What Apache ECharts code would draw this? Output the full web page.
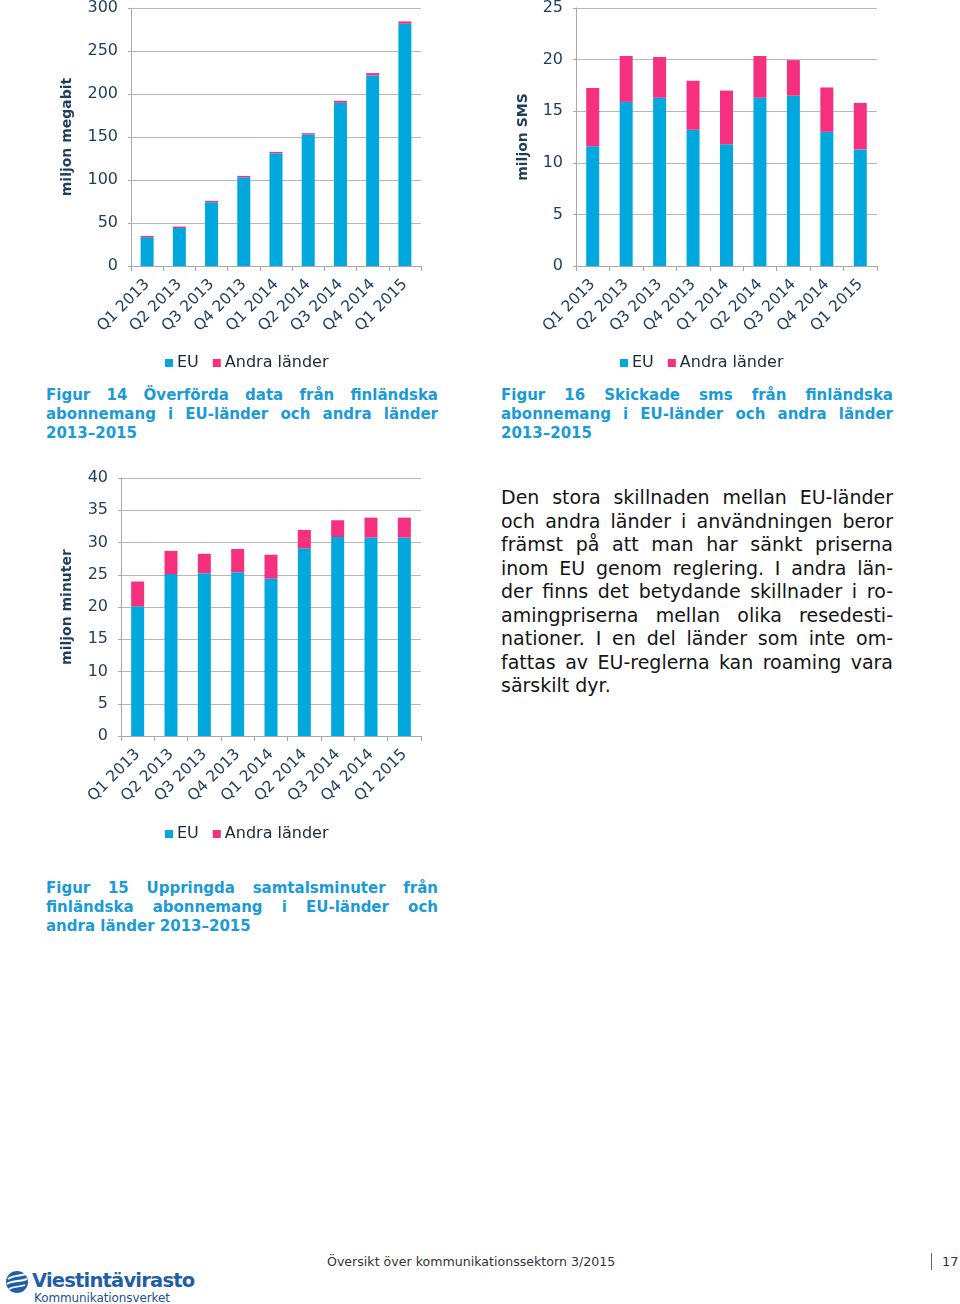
<!DOCTYPE html>
<html>
<head>
<meta charset="utf-8">
<script src="https://cdn.jsdelivr.net/npm/echarts@6/dist/echarts.min.js"></script>
<style>
  html, body { margin:0; padding:0; background:#fff; }
  body { width:960px; height:1304px; position:relative; overflow:hidden; font-family:"DejaVu Sans", Verdana, sans-serif; }
  .chart { position:absolute; }
  .cap { position:absolute; width:392px; color:#1a9bd7; font-weight:bold; font-size:15px; line-height:19px; }
  .cap div, .para div { text-align:justify; text-align-last:justify; white-space:nowrap; }
  .cap div.last, .para div.last { text-align-last:left; }
  .para { position:absolute; left:501px; top:486px; width:392px; font-size:19px; line-height:23.5px; color:#141414; }
  .footer { position:absolute; left:327px; top:1254px; font-size:12.6px; color:#333; }
  .pnum { position:absolute; left:931px; top:1253px; height:17px; border-left:1px solid #666; padding-left:10px; font-size:13px; color:#333; line-height:17px; }
  .logo1 { position:absolute; left:32px; top:1269px; font-size:19.5px; font-weight:bold; color:#1f5fa8; letter-spacing:-0.8px; line-height:24px; }
  .logo2 { position:absolute; left:34px; top:1291px; font-size:12px; color:#1f4f90; line-height:14px; letter-spacing:-0.1px; }
  .globe { position:absolute; left:5px; top:1270px; }
</style>
</head>
<body>
<div id="c1" class="chart" style="left:0;top:0;width:480px;height:380px;"></div>
<div id="c2" class="chart" style="left:480px;top:0;width:480px;height:380px;"></div>
<div id="c3" class="chart" style="left:0;top:460px;width:480px;height:400px;"></div>

<div class="cap" style="left:46px;top:386px;">
  <div>Figur 14 Överförda data från finländska</div>
  <div>abonnemang i EU-länder och andra länder</div>
  <div class="last">2013–2015</div>
</div>
<div class="cap" style="left:501px;top:386px;">
  <div>Figur 16 Skickade sms från finländska</div>
  <div>abonnemang i EU-länder och andra länder</div>
  <div class="last">2013–2015</div>
</div>
<div class="cap" style="left:46px;top:879px;">
  <div>Figur 15 Uppringda samtalsminuter från</div>
  <div>finländska abonnemang i EU-länder och</div>
  <div class="last">andra länder 2013–2015</div>
</div>

<div class="para">
  <div>Den stora skillnaden mellan EU-länder</div>
  <div>och andra länder i användningen beror</div>
  <div>främst på att man har sänkt priserna</div>
  <div>inom EU genom reglering. I andra län-</div>
  <div>der finns det betydande skillnader i ro-</div>
  <div>amingpriserna mellan olika resedesti-</div>
  <div>nationer. I en del länder som inte om-</div>
  <div>fattas av EU-reglerna kan roaming vara</div>
  <div class="last">särskilt dyr.</div>
</div>

<svg class="globe" width="24" height="24" viewBox="0 0 24 24">
  <circle cx="12" cy="12" r="11" fill="#1f5fa8"/>
  <path d="M3 9 C8 5, 15 6, 21 4" stroke="#fff" stroke-width="2" fill="none"/>
  <path d="M2 14 C8 10, 15 12, 22 9" stroke="#fff" stroke-width="2" fill="none"/>
  <path d="M4 19 C9 16, 15 17, 20 15" stroke="#fff" stroke-width="1.6" fill="none"/>
</svg>
<div class="logo1">Viestintävirasto</div>
<div class="logo2">Kommunikationsverket</div>
<div class="footer">Översikt över kommunikationssektorn 3/2015</div>
<div class="pnum">17</div>

<script>
// ---- data ----
const categories = ['Q1 2013','Q2 2013','Q3 2013','Q4 2013','Q1 2014','Q2 2014','Q3 2014','Q4 2014','Q1 2015'];
const legendNames = ['EU', 'Andra länder'];

const dataEU    = [33.5, 44.2, 74.1, 103.2, 131.2, 152.9, 189.8, 221.6, 281.7];
const dataOther = [1.5, 1.6, 1.6, 1.6, 1.5, 1.5, 2.3, 2.7, 2.7];

const smsEU     = [11.6, 15.9, 16.3, 13.2, 11.8, 16.3, 16.5, 13.0, 11.3];
const smsOther  = [5.65, 4.45, 3.95, 4.75, 5.2, 4.05, 3.45, 4.3, 4.5];

const minEU     = [20.1, 25.1, 25.25, 25.4, 24.4, 29.1, 30.85, 30.75, 30.75];
const minOther  = [3.85, 3.6, 3.0, 3.6, 3.7, 2.85, 2.6, 3.1, 3.1];

const yTicks1 = [0, 50, 100, 150, 200, 250, 300];
const yTicks2 = [0, 5, 10, 15, 20, 25];
const yTicks3 = [0, 5, 10, 15, 20, 25, 30, 35, 40];

// ---- styles ----
const COL_EU = '#00a8dd';
const COL_OTHER = '#f5307f';
const TXT = '#1d3c5e';
const GRIDC = '#b8b8b8';
const FONT = '"DejaVu Sans", Verdana, sans-serif';

function makeChart(id, cfg) {
  const ch = echarts.init(document.getElementById(id), null, {renderer: 'canvas'});
  const ticks = cfg.ticks;
  ch.setOption({
    animation: false,
    textStyle: {fontFamily: FONT},
    grid: cfg.grid,
    legend: {
      data: legendNames,
      left: cfg.legendLeft, top: cfg.legendTop,
      itemWidth: 8, itemHeight: 8, itemGap: 14,
      icon: 'rect',
      textStyle: {fontSize: 16, color: '#1a2a3a', fontFamily: FONT, padding: [0,0,0,-1]}
    },
    xAxis: {
      type: 'category',
      data: categories,
      axisLine: {lineStyle: {color: '#a8a8a8', width: 1}},
      axisTick: {show: true, length: 5, lineStyle: {color: '#a8a8a8'}},
      axisLabel: {rotate: 45, fontSize: 15.5, color: TXT, margin: 16, fontFamily: FONT, interval: 0}
    },
    yAxis: {
      type: 'value',
      min: ticks[0], max: ticks[ticks.length - 1], interval: ticks[1] - ticks[0],
      name: cfg.yName, nameLocation: 'middle', nameRotate: 90, nameGap: cfg.nameGap,
      nameTextStyle: {fontSize: 14, fontWeight: 'bold', color: TXT, fontFamily: FONT},
      axisLine: {show: true, lineStyle: {color: '#a8a8a8'}},
      axisTick: {show: true, length: 3, lineStyle: {color: '#a8a8a8'}},
      splitLine: {lineStyle: {color: GRIDC}},
      axisLabel: {fontSize: 16, color: TXT, margin: 13, fontFamily: FONT}
    },
    series: [
      {name: 'EU', type: 'bar', stack: 's', data: cfg.eu, barWidth: 13, itemStyle: {color: COL_EU}},
      {name: 'Andra länder', type: 'bar', stack: 's', data: cfg.other, barWidth: 13, itemStyle: {color: COL_OTHER}}
    ]
  });
}

makeChart('c1', {
  grid: {left: 131, right: 59, top: 8, bottom: 114},
  ticks: yTicks1, yName: 'miljon megabit', nameGap: 57,
  eu: dataEU, other: dataOther, legendLeft: 160, legendTop: 350
});
makeChart('c2', {
  grid: {left: 96, right: 83, top: 8, bottom: 114},
  ticks: yTicks2, yName: 'miljon SMS', nameGap: 46,
  eu: smsEU, other: smsOther, legendLeft: 135, legendTop: 350
});
makeChart('c3', {
  grid: {left: 121, right: 59, top: 18, bottom: 124},
  ticks: yTicks3, yName: 'miljon minuter', nameGap: 47,
  eu: minEU, other: minOther, legendLeft: 160, legendTop: 821 - 460
});
</script>
</body>
</html>
